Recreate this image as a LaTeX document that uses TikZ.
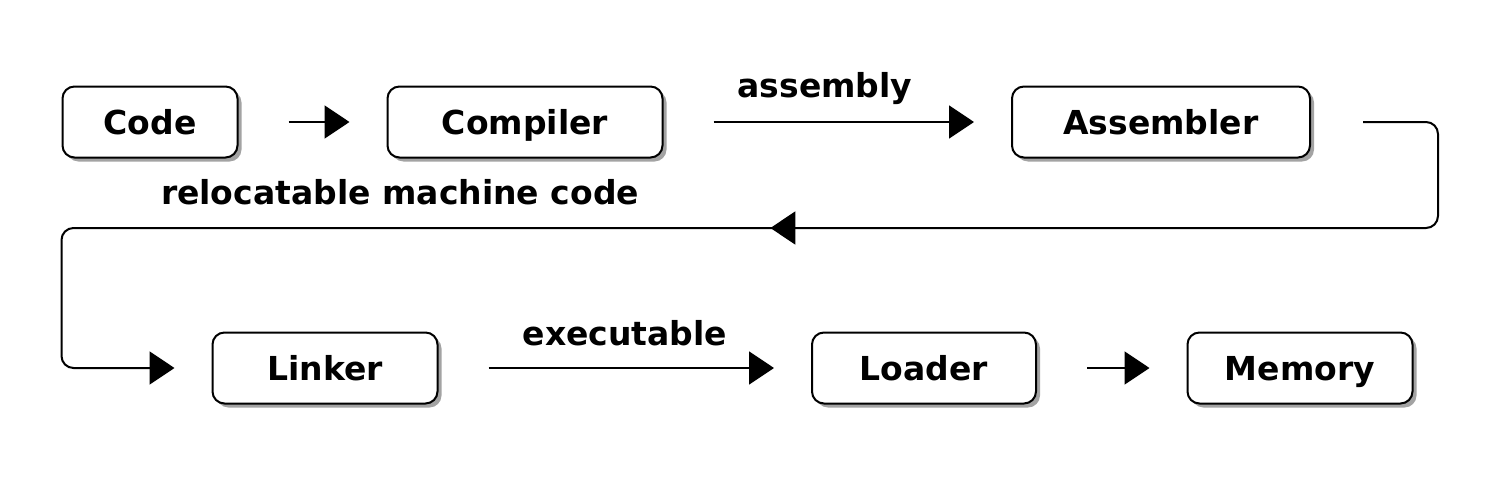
\documentclass[tikz,border=0pt]{standalone}
\usepackage{fontspec}
\setmainfont{DejaVu Sans}
\usetikzlibrary{arrows.meta,shadows,calc}
\begin{document}
\begin{tikzpicture}[x=1pt,y=-1pt,
  stage/.style={draw=black, line width=2pt, rounded corners=12pt, fill=white,
    minimum height=71pt, inner sep=0pt, text height=24pt, text depth=0pt,
    font=\fontsize{33}{38}\selectfont\bfseries,
    drop shadow={shadow xshift=4pt, shadow yshift=-4pt, fill=black!60, opacity=0.6}},
  flow/.style={line width=2pt, -{Triangle[length=25pt,width=33pt]}},
  lbl/.style={font=\fontsize{33}{38}\selectfont\bfseries, inner sep=0pt}]
\useasboundingbox (0,0) rectangle (1500,490);
\fill[white] (0,0) rectangle (1500,490);
\node[stage, minimum width=175pt] (code) at (150,122) {Code};
\node[stage, minimum width=275pt] (compiler) at (525,122) {Compiler};
\node[stage, minimum width=298pt] (assembler) at (1161,122) {Assembler};
\node[stage, minimum width=225pt] (linker) at (325,368) {Linker};
\node[stage, minimum width=224pt] (loader) at (924,368) {Loader};
\node[stage, minimum width=225pt] (memory) at (1300,368) {Memory};

\draw[flow, shorten <=50pt, shorten >=37pt] (code.east) -- (compiler.west);
\draw[flow, shorten <=50pt, shorten >=37pt] (compiler.east) -- (assembler.west);
\node[lbl] (lassembly) at (825,89) {assembly};

\coordinate (s0) at ($(assembler.east)+(52,0)$);
\coordinate (s1) at ($(assembler.east)+(127,0)$);
\coordinate (s2) at ($(s1)+(0,106)$);
\coordinate (s3) at (code.west |- s2);
\coordinate (s4) at (s3 |- linker.west);
\coordinate (s2b) at ($(s2)+(-14,0)$);
\coordinate (mid) at ($(s3)!0.515!(s2)$);
\draw[line width=2pt, rounded corners=12pt, -{Triangle[length=25pt,width=33pt]}, shorten >=37pt]
  (s0) -- (s1) -- (s2) -- (s3) -- (s4) -- (linker.west);
\draw[flow] (s2b) -- (mid);
\node[lbl] (lreloc) at (400,192) {relocatable machine code};

\draw[flow, shorten <=50pt, shorten >=37pt] (linker.east) -- (loader.west);
\node[lbl] (lexec) at (625,333) {executable};
\draw[flow, shorten <=50pt, shorten >=37pt] (loader.east) -- (memory.west);
\end{tikzpicture}
\end{document}
